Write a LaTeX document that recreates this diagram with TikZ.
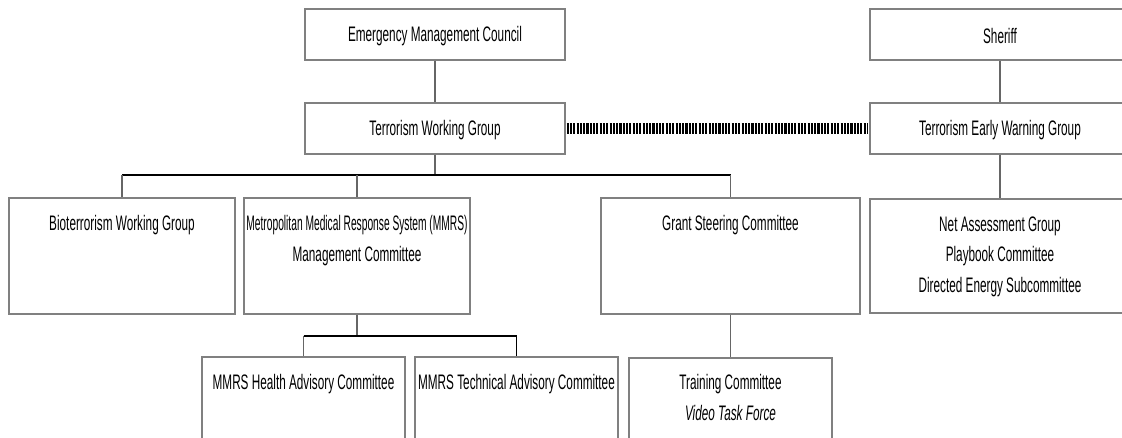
\documentclass[tikz,border=0pt]{standalone}
\usepackage{fontspec}
\setmainfont[FakeStretch=0.56]{Liberation Sans}
\begin{document}
\begin{tikzpicture}[x=1pt,y=-1pt,
  box/.style={draw=black!50, line width=1.3pt, fill=white, inner sep=0pt},
  lbl/.style={anchor=north, align=center, inner sep=0pt, font=\fontsize{21}{30.5}\selectfont},
  conn/.style={draw=black!60, line width=1.3pt},
  bar/.style={draw=black, line width=1.6pt},
  link/.style={draw=black, line width=11pt, dash pattern=on 2.1pt off 1.2pt}]
\useasboundingbox (0,0) rectangle (1122,438);
% top row
\node[box, minimum width=260pt, minimum height=51pt] (emc) at (435,34.5) {};
\node[lbl, anchor=center] (emct) at ([yshift=-1.5pt]emc.center) {Emergency Management Council};
\node[box, minimum width=260pt, minimum height=51pt] (twg) at (435,128.5) {};
\node[lbl, anchor=center] (twgt) at ([yshift=-1.5pt]twg.center) {Terrorism Working Group};
\node[box, minimum width=260pt, minimum height=51pt] (sher) at (1000,34.5) {};
\node[lbl, anchor=center] (shert) at ([yshift=-1.5pt]sher.center) {Sheriff};
\node[box, minimum width=260pt, minimum height=51pt] (tewg) at (1000,128.5) {};
\node[lbl, anchor=center] (tewgt) at ([yshift=-1.5pt]tewg.center) {Terrorism Early Warning Group};
% middle row
\node[box, minimum width=226pt, minimum height=116pt] (bio) at (122,256) {};
\node[lbl] (biot) at ([yshift=-18pt]bio.north) {Bioterrorism Working Group};
\node[box, minimum width=226pt, minimum height=116pt] (mmrs) at (357,256) {};
\node[lbl] (mmrst) at ([yshift=-18pt]mmrs.north) {\scalebox{0.87}[1]{Metropolitan Medical Response System (MMRS)}\\Management Committee};
\node[box, minimum width=259pt, minimum height=116pt] (grant) at (730.5,256) {};
\node[lbl] (grantt) at ([yshift=-18pt]grant.north) {Grant Steering Committee};
\node[box, minimum width=260pt, minimum height=114pt] (neta) at (1000,256) {};
\node[lbl] (netat) at ([yshift=-18pt]neta.north) {Net Assessment Group\\Playbook Committee\\Directed Energy Subcommittee};
% bottom row
\node[box, minimum width=203pt, minimum height=120pt] (hlth) at (303.5,417) {};
\node[lbl] (hltht) at ([yshift=-18pt]hlth.north) {MMRS Health Advisory Committee};
\node[box, minimum width=203pt, minimum height=120pt] (tech) at (516.5,417) {};
\node[lbl] (techt) at ([yshift=-18pt]tech.north) {MMRS Technical Advisory Committee};
\node[box, minimum width=203pt, minimum height=120pt] (train) at (730.5,418) {};
\node[lbl] (traint) at ([yshift=-17pt]train.north) {Training Committee\\\textit{Video Task Force}};
% connectors
\coordinate (b1) at (435,175);
\coordinate (bl) at (122,175);
\coordinate (bm) at (357,175);
\coordinate (br) at (730.5,175);
\coordinate (m1) at (357,336);
\coordinate (ml) at (303.5,336);
\coordinate (mr) at (516.5,336);
\draw[conn] (emc.south) -- (twg.north);
\draw[conn] (twg.south) -- (b1);
\draw[bar] (bl) -- (br);
\draw[conn] (bl) -- (bio.north);
\draw[conn] (bm) -- (mmrs.north);
\draw[conn] (br) -- (grant.north);
\draw[conn] (mmrs.south) -- (m1);
\draw[bar] (ml) -- (mr);
\draw[conn] (ml) -- (hlth.north);
\draw[bar] (mr) -- (tech.north);
\draw[conn] (grant.south) -- (train.north);
\draw[conn] (sher.south) -- (tewg.north);
\draw[conn] (tewg.south) -- (neta.north);
\draw[link] ([xshift=1pt]twg.east) -- ([xshift=-1pt]tewg.west);
\end{tikzpicture}
\end{document}
